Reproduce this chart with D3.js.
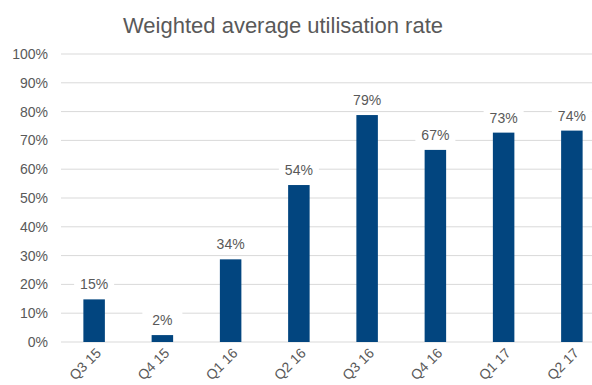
<!DOCTYPE html>
<html>
<head>
<meta charset="utf-8">
<script src="https://cdn.jsdelivr.net/npm/d3@7"></script>
<style>
  body { margin: 0; background: #fff; }
  text { font-family: Arial, "Liberation Sans", sans-serif; }
</style>
</head>
<body>
<script>
var width = 592,
    height = 385;

// quarters, bar heights as drawn, and the labels printed above them
var quarters = ["Q3 15", "Q4 15", "Q1 16", "Q2 16", "Q3 16", "Q4 16", "Q1 17", "Q2 17"];
var barValues = [14.8, 2.4, 28.7, 54.5, 78.8, 66.7, 72.7, 73.4];
var barLabels = ["15%", "2%", "34%", "54%", "79%", "67%", "73%", "74%"];
var yTicks = [0, 10, 20, 30, 40, 50, 60, 70, 80, 90, 100];

var gray = "#595959";

var svg = d3.select("body")
    .append("svg")
    .attr("width", width)
    .attr("height", height);

var x = d3.scaleBand()
    .domain(quarters)
    .range([60, 606])
    .paddingInner(0.685)
    .paddingOuter(0.3425);

var y = d3.scaleLinear()
    .domain([0, 100])
    .range([342, 54]);

svg.append("text")
    .attr("x", 283)
    .attr("y", 33)
    .attr("text-anchor", "middle")
    .attr("font-size", 22)
    .attr("fill", gray)
    .text("Weighted average utilisation rate");

// gridlines
svg.append("g")
    .selectAll("line")
    .data(yTicks)
    .enter()
    .append("line")
    .attr("x1", 61)
    .attr("x2", width)
    .attr("y1", function (d) { return y(d); })
    .attr("y2", function (d) { return y(d); })
    .style("stroke", "#d9d9d9")
    .style("stroke-width", 1);

// y axis labels
var yAxis = d3.axisLeft(y)
    .tickValues(yTicks)
    .tickSize(0)
    .tickPadding(0)
    .tickFormat(function (d) { return d + "%"; });

var gy = svg.append("g")
    .attr("transform", "translate(48,0)")
    .call(yAxis);
gy.select(".domain").remove();
gy.selectAll("text")
    .attr("font-size", 14)
    .attr("fill", gray)
    .style("font-family", "Arial, 'Liberation Sans', sans-serif");

// bars
svg.append("g")
    .selectAll("rect")
    .data(barValues)
    .enter()
    .append("rect")
    .attr("x", function (d, i) { return x(quarters[i]); })
    .attr("y", function (d) { return y(d); })
    .attr("width", x.bandwidth())
    .attr("height", function (d) { return y(0) - y(d); })
    .style("fill", "#02457f");

// value labels with white boxes
var labels = svg.append("g")
    .selectAll("g")
    .data(barValues)
    .enter()
    .append("g")
    .attr("transform", function (d, i) {
        return "translate(" + (x(quarters[i]) + x.bandwidth() / 2) + "," + (y(d) - 10) + ")";
    });

labels.append("rect")
    .attr("x", -20)
    .attr("y", -15)
    .attr("width", 40)
    .attr("height", 19)
    .style("fill", "#fff");

labels.append("text")
    .attr("text-anchor", "middle")
    .attr("font-size", 14)
    .attr("fill", gray)
    .text(function (d, i) { return barLabels[i]; });

// x axis labels, rotated
var xAxis = d3.axisBottom(x)
    .tickSize(0)
    .tickPadding(0);

var gx = svg.append("g")
    .attr("transform", "translate(0," + y(0) + ")")
    .call(xAxis);
gx.select(".domain").remove();
gx.selectAll("text")
    .attr("font-size", 14)
    .attr("fill", gray)
    .style("font-family", "Arial, 'Liberation Sans', sans-serif")
    .attr("text-anchor", "end")
    .attr("dy", null)
    .attr("y", 0)
    .attr("transform", "translate(8,12) rotate(-45)");
</script>
</body>
</html>
